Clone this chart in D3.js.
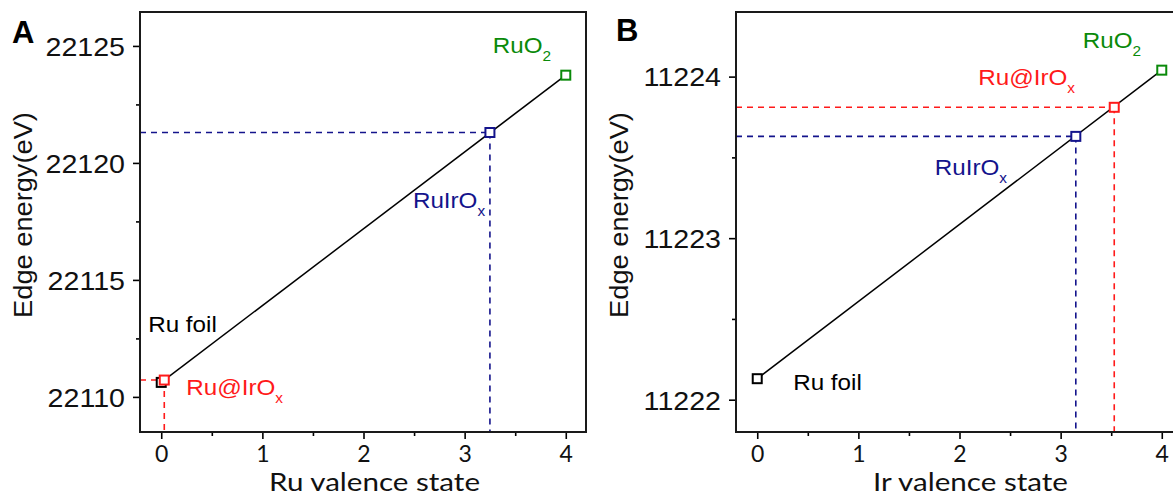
<!DOCTYPE html>
<html>
<head>
<meta charset="utf-8">
<script src="https://cdn.jsdelivr.net/npm/d3@7"></script>
<style>
  html, body { margin: 0; padding: 0; background: #fff; }
  svg { display: block; }
</style>
</head>
<body>
<svg id="chart" width="1173" height="497"></svg>
<script>
// ---------- data ----------
const xTicks = [0, 1, 2, 3, 4];
const xMinorTicks = [0.5, 1.5, 2.5, 3.5];
const xDomain = [-0.21, 4.2];

const samples = ["Ru foil", "Ru@IrOx", "RuIrOx", "RuO2"];
const labelMain = ["Ru foil", "Ru@IrO", "RuIrO", "RuO"];
const labelSub = ["", "x", "x", "2"];
const sampleColors = ["#000000", "#ff1a1a", "#14148c", "#0a8a0a"];

// Panel A: Ru K-edge
const valenceA = [0, 0.03, 3.25, 4.0];
const energyA = [22110.62, 22110.72, 22121.3, 22123.75];
const fitValenceA = [0, 4];
const fitEnergyA = [22110.62, 22123.75];
const yTicksA = [22110, 22115, 22120, 22125];
const yMinorTicksA = [22112.5, 22117.5, 22122.5];
const yDomainA = [22108.5, 22126.45];

// Panel B: Ir L-edge
const valenceB = [0, 3.53, 3.15, 4.0];
const energyB = [11222.13, 11223.81, 11223.63, 11224.04];
const fitValenceB = [0, 4];
const fitEnergyB = [11222.13, 11224.04];
const yTicksB = [11222, 11223, 11224];
const yMinorTicksB = [11222.5, 11223.5];
const yDomainB = [11221.8, 11224.4];

// ---------- drawing ----------
const svg = d3.select("#chart");
const TOP = 12, BOTTOM = 432, PW = 446;
const SX = 1.1; // horizontal stretch of the Arial-like texts

function drawPanel(o) {
  const x = d3.scaleLinear().domain(xDomain).range([o.left, o.left + PW]);
  const y = d3.scaleLinear().domain(o.yDomain).range([BOTTOM, TOP]);
  const g = svg.append("g");

  // fit line
  const line = d3.line().x(d => x(d[0])).y(d => y(d[1]));
  g.append("path")
    .datum(o.fitX.map((v, i) => [v, o.fitY[i]]))
    .attr("d", line)
    .attr("fill", "none").attr("stroke", "#000").attr("stroke-width", 1.5);

  // dashed guide lines
  o.guides.forEach(i => {
    const px = x(o.vx[i]), py = y(o.vy[i]);
    g.append("line").attr("x1", x(xDomain[0])).attr("x2", px).attr("y1", py).attr("y2", py)
      .attr("stroke", sampleColors[i]).attr("stroke-width", 1.6).attr("stroke-dasharray", "6,5");
    g.append("line").attr("x1", px).attr("x2", px).attr("y1", py).attr("y2", y(o.yDomain[0]))
      .attr("stroke", sampleColors[i]).attr("stroke-width", 1.6).attr("stroke-dasharray", "6,5");
  });

  // markers
  const s = 9;
  g.selectAll("rect.pt").data(samples).join("rect")
    .attr("class", "pt")
    .attr("x", (d, i) => x(o.vx[i]) - s / 2)
    .attr("y", (d, i) => y(o.vy[i]) - s / 2)
    .attr("width", s).attr("height", s)
    .attr("fill", "#fff")
    .attr("stroke", (d, i) => sampleColors[i])
    .attr("stroke-width", 2);

  // labels
  samples.forEach((d, i) => {
    const t = g.append("text")
      .attr("transform", `translate(${x(o.vx[i]) + o.lab[i][0]},${y(o.vy[i]) + o.lab[i][1]}) scale(${SX},1)`)
      .attr("font-family", "Liberation Sans, Arial, sans-serif")
      .attr("font-size", 22)
      .attr("fill", sampleColors[i]);
    t.append("tspan").text(labelMain[i]);
    if (labelSub[i]) t.append("tspan").attr("font-size", 14).attr("dy", 8).text(labelSub[i]);
  });

  // axes
  const ya = g.append("g").attr("transform", `translate(${o.left},0)`)
    .call(d3.axisLeft(y).tickValues(o.yTicks).tickSize(7).tickSizeOuter(0).tickFormat(d3.format("d")));
  g.append("g").attr("transform", `translate(${o.left},0)`)
    .call(d3.axisLeft(y).tickValues(o.yMinor).tickSize(4).tickSizeOuter(0).tickFormat(""))
    .call(a => a.select(".domain").remove())
    .selectAll("line").attr("stroke-width", 1.6);
  ya.select(".domain").remove();
  ya.selectAll("line").attr("stroke-width", 1.6);
  ya.selectAll("text")
    .attr("font-family", "Liberation Sans, Arial, sans-serif")
    .attr("font-size", 26).attr("fill", "#111")
    .attr("x", -15 / SX).attr("dy", "0.36em")
    .attr("transform", `scale(${SX},1)`);

  const xa = g.append("g").attr("transform", `translate(0,${BOTTOM})`)
    .call(d3.axisBottom(x).tickValues(xTicks).tickSize(7).tickSizeOuter(0).tickFormat(d3.format("d")));
  g.append("g").attr("transform", `translate(0,${BOTTOM})`)
    .call(d3.axisBottom(x).tickValues(xMinorTicks).tickSize(4).tickSizeOuter(0).tickFormat(""))
    .call(a => a.select(".domain").remove())
    .selectAll("line").attr("stroke-width", 1.6);
  xa.select(".domain").remove();
  xa.selectAll("line").attr("stroke-width", 1.6);
  xa.selectAll("text")
    .attr("font-family", "Lato, sans-serif")
    .attr("font-size", 23).attr("fill", "#111")
    .attr("y", 30).attr("dy", 0);

  // frame
  g.append("rect").attr("x", o.left).attr("y", TOP).attr("width", PW).attr("height", BOTTOM - TOP)
    .attr("fill", "none").attr("stroke", "#1a1a1a").attr("stroke-width", 2);

  // axis titles
  g.append("text")
    .attr("x", x(2) + 11).attr("y", 491)
    .attr("text-anchor", "middle")
    .attr("textLength", o.xTitleLen).attr("lengthAdjust", "spacingAndGlyphs")
    .attr("font-family", "Lato, sans-serif").attr("font-size", 25).attr("fill", "#111")
    .text(o.xTitle);
  g.append("text")
    .attr("transform", `translate(${o.left - 108},215) rotate(-90) scale(1.09,1)`)
    .attr("text-anchor", "middle")
    .attr("font-family", "Liberation Sans, Arial, sans-serif").attr("font-size", 25).attr("fill", "#111")
    .text("Edge energy(eV)");

  // panel letter
  g.append("text")
    .attr("x", o.letterX).attr("y", o.letterY)
    .attr("font-family", "Liberation Sans, Arial, sans-serif").attr("font-weight", "bold")
    .attr("font-size", 31).attr("fill", "#000")
    .text(o.letter);
}

drawPanel({
  left: 140, yDomain: yDomainA, yTicks: yTicksA, yMinor: yMinorTicksA,
  vx: valenceA, vy: energyA, fitX: fitValenceA, fitY: fitEnergyA,
  guides: [1, 2],
  lab: [[-13, -50], [22, 15], [-77, 75], [-73, -22]],
  xTitle: "Ru valence state", xTitleLen: 211, letter: "A", letterX: 12, letterY: 43
});
drawPanel({
  left: 736, yDomain: yDomainB, yTicks: yTicksB, yMinor: yMinorTicksB,
  vx: valenceB, vy: energyB, fitX: fitValenceB, fitY: fitEnergyB,
  guides: [1, 2],
  lab: [[36, 11], [-136, -22], [-141, 39], [-79, -22]],
  xTitle: "Ir valence state", xTitleLen: 195, letter: "B", letterX: 616, letterY: 41
});
</script>
</body>
</html>
